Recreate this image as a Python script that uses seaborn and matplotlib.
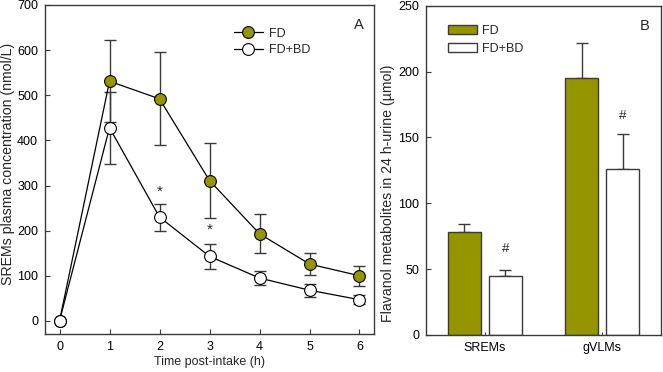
import pandas as pd
import matplotlib
matplotlib.use('Agg')
import matplotlib.pyplot as plt
import seaborn as sns

# ---------------- DATA ----------------
time_h = [0, 1, 2, 3, 4, 5, 6]
fd_mean = [0, 531, 492, 311, 193, 126, 100]
fd_err = [0, 91, 103, 84, 43, 24, 22]
fdbd_mean = [0, 428, 230, 143, 95, 68, 47]
fdbd_err = [0, 80, 30, 27, 16, 14, 10]
star_times = [2, 3]
star_y = [287, 201]

metabolites = ['SREMs', 'gVLMs']
urine_fd = [78, 195]
urine_fd_err = [6, 27]
urine_fdbd = [45, 126]
urine_fdbd_err = [4, 27]
hash_y = [65, 166]

olive = '#959500'
edge = '#3a3a3a'

sns.set_style('ticks')
plt.rcParams['font.family'] = ['Liberation Sans', 'DejaVu Sans']
plt.rcParams['font.size'] = 9
plt.rcParams['axes.edgecolor'] = edge
plt.rcParams['xtick.color'] = edge
plt.rcParams['ytick.color'] = edge
plt.rcParams['xtick.labelcolor'] = 'black'
plt.rcParams['ytick.labelcolor'] = 'black'
plt.rcParams['xtick.direction'] = 'in'
plt.rcParams['ytick.direction'] = 'in'
plt.rcParams['xtick.major.size'] = 3.5
plt.rcParams['ytick.major.size'] = 3.5
plt.rcParams['xtick.major.pad'] = 5
plt.rcParams['ytick.major.pad'] = 5
plt.rcParams['axes.linewidth'] = 1.0

fig = plt.figure(figsize=(6.63, 3.72), dpi=100)
ax1 = fig.add_axes([0.0679, 0.1022, 0.4962, 0.8844])
ax2 = fig.add_axes([0.6425, 0.0995, 0.3545, 0.8850])

# ---------------- PANEL A: LINE PLOT ----------------
plasma = pd.DataFrame({'time': time_h, 'FD': fd_mean, 'FD+BD': fdbd_mean})

ax1.errorbar(time_h, fd_mean, yerr=fd_err, fmt='none', ecolor=edge,
             elinewidth=1, capsize=4.3, capthick=1, zorder=2)
ax1.errorbar(time_h, fdbd_mean, yerr=fdbd_err, fmt='none', ecolor=edge,
             elinewidth=1, capsize=4.3, capthick=1, zorder=2)
sns.lineplot(data=plasma, x='time', y='FD', ax=ax1, color='black', lw=0.9,
             marker='o', markersize=8.5, markerfacecolor=olive,
             markeredgecolor='black', markeredgewidth=0.8, label='FD', zorder=3)
sns.lineplot(data=plasma, x='time', y='FD+BD', ax=ax1, color='black', lw=0.9,
             marker='o', markersize=8.5, markerfacecolor='white',
             markeredgecolor='black', markeredgewidth=0.8, label='FD+BD', zorder=4)

for t, y in zip(star_times, star_y):
    ax1.text(t, y, '*', ha='center', va='center', fontsize=11)

ax1.set_xlim(-0.29, 6.29)
ax1.set_ylim(-29, 700)
ax1.set_xticks(time_h)
ax1.set_yticks(range(0, 701, 100))
ax1.set_xlabel('Time post-intake (h)', labelpad=2)
ax1.set_ylabel('SREMs plasma concentration (nmol/L)', fontsize=10.2)
ax1.yaxis.set_label_coords(-0.09, 0.518)
ax1.text(0.955, 0.94, 'A', transform=ax1.transAxes, ha='center', va='center', fontsize=10.5)
ax1.legend(loc='upper left', bbox_to_anchor=(0.54, 0.965), frameon=False,
           handlelength=2.3, handletextpad=0.5, labelspacing=0.35, fontsize=9)

# ---------------- PANEL B: BAR CHART ----------------
urine = pd.DataFrame({
    'metabolite': metabolites * 2,
    'group': ['FD'] * 2 + ['FD+BD'] * 2,
    'value': urine_fd + urine_fdbd,
})
sns.barplot(data=urine, x='metabolite', y='value', hue='group', ax=ax2,
            palette={'FD': olive, 'FD+BD': 'white'}, saturation=1,
            edgecolor=edge, linewidth=1, width=0.7, gap=0.2,
            errorbar=None, zorder=2)

for container, errs in zip(ax2.containers, [urine_fd_err, urine_fdbd_err]):
    xs = [b.get_x() + b.get_width() / 2 for b in container]
    hs = [b.get_height() for b in container]
    ax2.errorbar(xs, hs, yerr=[[0] * len(errs), errs], fmt='none', ecolor=edge,
                 elinewidth=1, capsize=4, capthick=1, zorder=1)

fdbd_bars = ax2.containers[1]
for b, y in zip(fdbd_bars, hash_y):
    ax2.text(b.get_x() + b.get_width() / 2, y, '#', ha='center', va='center', fontsize=9.5)

ax2.set_xlim(-0.5, 1.5)
ax2.set_ylim(0, 250)
ax2.set_yticks(range(0, 251, 50))
ax2.set_xlabel('')
ax2.set_ylabel('Flavanol metabolites in 24 h-urine (µmol)', fontsize=10.2)
ax2.yaxis.set_label_coords(-0.132, 0.43)
ax2.tick_params(axis='x', length=2.5)
ax2.text(0.93, 0.94, 'B', transform=ax2.transAxes, ha='center', va='center', fontsize=10.5)
ax2.legend(loc='upper left', bbox_to_anchor=(0.045, 0.975), frameon=False,
           handlelength=2.3, handleheight=0.75, handletextpad=0.4, labelspacing=0.45, fontsize=9)

for ax in (ax1, ax2):
    for s in ax.spines.values():
        s.set_visible(True)

fig.savefig('out.png', dpi=100)
